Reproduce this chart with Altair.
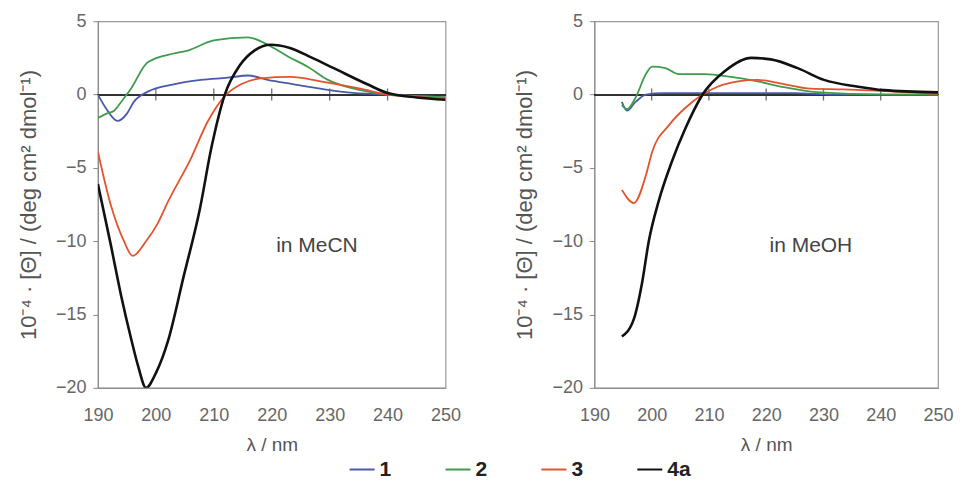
import altair as alt
import pandas as pd

SERIES = ["1", "2", "3", "4a"]
COLORS = ["#4a5aa8", "#3f9c4e", "#e5532d", "#111111"]
X_TICKS = [190, 200, 210, 220, 230, 240, 250]
Y_TICKS = [-20, -15, -10, -5, 0, 5]
INNER_TICKS = [200, 210, 220, 230, 240]

# ---- MeCN panel ----
mecn_1_x = [190, 191.5, 193.4, 195, 196.2, 198.6, 203.1, 207.8, 212.4, 215.9, 219.3, 223.8, 228.4, 233.1, 240, 245, 250]
mecn_1_y = [0.0, -1.0, -1.8, -1.3, -0.5, 0.2, 0.7, 1.0, 1.15, 1.3, 1.0, 0.7, 0.4, 0.15, 0.0, -0.1, -0.2]

mecn_2_x = [190, 191.5, 192.8, 194.2, 195.7, 198.6, 203.1, 205.5, 210, 215.9, 219.3, 222.8, 226.2, 229.7, 235.3, 240, 245, 250]
mecn_2_y = [-1.6, -1.3, -1.1, -0.4, 0.4, 2.2, 2.8, 3.0, 3.7, 3.9, 3.4, 2.6, 1.9, 1.0, 0.3, 0.0, -0.1, -0.2]

mecn_3_x = [190, 192.2, 194.5, 196.0, 198.3, 200.3, 202.1, 206.0, 209, 211.9, 214.7, 218.1, 223.3, 228.4, 235.3, 240, 245, 250]
mecn_3_y = [-3.9, -7.5, -10.0, -11.0, -10.0, -8.8, -7.3, -4.4, -1.8, -0.1, 0.7, 1.1, 1.2, 0.9, 0.4, 0.0, -0.15, -0.3]

mecn_4a_x = [190, 192.2, 194.0, 195.7, 197.0, 198.3, 200.0, 202.1, 204.8, 207.6, 209.6, 211.9, 214.5, 217.0, 219.8, 223.0, 227.0, 230.7, 236.5, 240, 245, 250]
mecn_4a_y = [-6.1, -10.2, -13.7, -16.6, -18.6, -20.0, -19.0, -16.8, -12.4, -7.8, -3.6, 0.0, 2.0, 3.0, 3.4, 3.2, 2.5, 1.8, 0.7, 0.1, -0.2, -0.35]

# ---- MeOH panel ----
meoh_1_x = [194.8, 195.7, 197.2, 199, 202, 210, 218, 225, 232, 240, 250]
meoh_1_y = [-0.5, -1.1, -0.5, 0.0, 0.1, 0.1, 0.1, 0.1, 0.0, 0.0, 0.0]

meoh_2_x = [194.8, 195.7, 197.2, 199, 200.1, 202.4, 204.7, 209.3, 213.9, 218.5, 223.1, 227.8, 235, 242, 250]
meoh_2_y = [-0.7, -1.0, -0.2, 1.4, 1.9, 1.8, 1.4, 1.4, 1.2, 0.9, 0.5, 0.2, 0.05, 0.0, 0.0]

meoh_3_x = [194.8, 196.9, 199, 200.1, 203, 205.9, 208.9, 211.6, 215.1, 218.5, 222, 227.8, 233.5, 240, 250]
meoh_3_y = [-6.5, -7.4, -5.5, -3.9, -2.1, -0.9, 0.0, 0.55, 0.9, 1.0, 0.8, 0.4, 0.35, 0.25, 0.05]

meoh_4a_x = [194.8, 196.9, 198.3, 199.5, 201.2, 203.5, 205.9, 208.9, 212.8, 217.4, 220.8, 225.5, 230.1, 235.8, 240.5, 250]
meoh_4a_y = [-16.5, -15.3, -12.9, -10.0, -7.3, -4.6, -2.3, 0.0, 1.6, 2.5, 2.4, 1.8, 1.0, 0.55, 0.3, 0.15]

ANNOT = {"MeCN": "in MeCN", "MeOH": "in MeOH"}


def frame(pairs):
    rows = []
    for s, (xs, ys) in zip(SERIES, pairs):
        for i, (a, b) in enumerate(zip(xs, ys)):
            rows.append({"series": s, "wl": a, "val": b, "i": i})
    return pd.DataFrame(rows)


df_mecn = frame([(mecn_1_x, mecn_1_y), (mecn_2_x, mecn_2_y), (mecn_3_x, mecn_3_y), (mecn_4a_x, mecn_4a_y)])
df_meoh = frame([(meoh_1_x, meoh_1_y), (meoh_2_x, meoh_2_y), (meoh_3_x, meoh_3_y), (meoh_4a_x, meoh_4a_y)])
ticks_df = pd.DataFrame({"t": INNER_TICKS})

FONT = "Liberation Sans"
xscale = alt.Scale(domain=[190, 250], nice=False, zero=False)
yscale = alt.Scale(domain=[-20, 5], nice=False, zero=False)

xaxis = alt.Axis(values=X_TICKS, title="λ / nm", grid=False, ticks=False, tickSize=0,
                 labelPadding=19, titlePadding=11, domainColor="#888", labelColor="#666",
                 titleColor="#555", labelFontSize=18, titleFontSize=19, labelFont=FONT,
                 titleFont=FONT, titleFontWeight="normal", labelFlush=False)
yaxis = alt.Axis(values=Y_TICKS, title="10⁻⁴ · [Θ] / (deg cm² dmol⁻¹)", grid=False,
                 tickSize=5, tickColor="#888", labelPadding=7, titlePadding=15,
                 domainColor="#888", labelColor="#666", titleColor="#555",
                 labelFontSize=18, titleFontSize=22, labelFont=FONT, titleFont=FONT,
                 titleFontWeight="normal")


def panel(df, label, w):
    base_x = alt.X("wl:Q", scale=xscale, axis=xaxis)
    base_y = alt.Y("val:Q", scale=yscale, axis=yaxis)
    zero = alt.Chart(df).mark_rule(color="#333", strokeWidth=1.3).encode(y=alt.datum(0, scale=yscale))
    tk = alt.Chart(ticks_df).mark_tick(color="#333", size=12, thickness=1.3, orient="vertical").encode(
        x=alt.X("t:Q", scale=xscale, axis=xaxis), y=alt.datum(0, scale=yscale))
    lines = alt.Chart(df).mark_line(interpolate="monotone", clip=True).encode(
        x=base_x, y=base_y,
        color=alt.Color("series:N", scale=alt.Scale(domain=SERIES, range=COLORS),
                        legend=alt.Legend(title=None)),
        strokeWidth=alt.condition(alt.datum.series == "4a", alt.value(2.6), alt.value(1.8)),
        order="i:Q", detail="series:N")
    txt = alt.Chart(pd.DataFrame({"s": [label]})).mark_text(
        font=FONT, fontSize=21, color="#444", align="center", baseline="middle").encode(
        x=alt.datum(227.8, scale=xscale), y=alt.datum(-10.3, scale=yscale), text="s:N")
    return alt.layer(zero, tk, lines, txt).properties(width=w, height=367)


chart = alt.hconcat(panel(df_mecn, ANNOT["MeCN"], 348), panel(df_meoh, ANNOT["MeOH"], 344), spacing=51).properties(
    padding={"left": 8, "top": 3, "right": 0, "bottom": 0}
).configure_view(stroke="#999", strokeWidth=1.2).configure_legend(
    orient="none", legendX=251, legendY=435, direction="horizontal", symbolType="stroke",
    symbolSize=625, symbolStrokeWidth=2, labelFontSize=21, labelFontWeight="bold",
    labelColor="#222", labelFont=FONT, columnPadding=50, labelOffset=4, padding=0
)

chart.save("out.html", embed_options={"renderer": "svg", "actions": False})
